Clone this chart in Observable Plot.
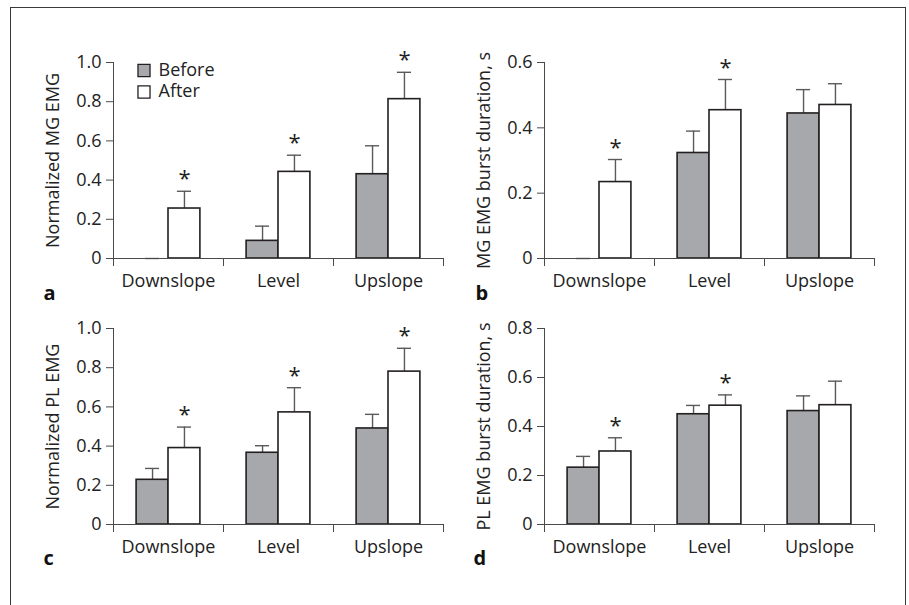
<!DOCTYPE html>
<html>
<head>
<meta charset="utf-8">
<script src="https://cdn.jsdelivr.net/npm/d3@7"></script>
<script src="https://cdn.jsdelivr.net/npm/@observablehq/plot@0.6"></script>
<style>
  html, body { margin: 0; padding: 0; background: #fff; }
  #wrap { position: relative; width: 909px; height: 605px; overflow: hidden; font-family: "Open Sans", sans-serif; background: #fff; }
  #frame { position: absolute; left: 10px; top: 7px; width: 896px; height: 620px; border: 1px solid #3a3a3a; box-sizing: border-box; z-index: 10; background: transparent; pointer-events: none; }
  svg.panel { position: absolute; max-width: none; }
</style>
</head>
<body>
<div id="wrap"><div id="frame"></div></div>
<script>
// ---------- data ----------
const categories = ["Downslope", "Level", "Upslope"];
const groups = ["Before", "After"];

// panel a: Normalized MG EMG
const aBefore    = [0.0,   0.09,  0.43];
const aBeforeErr = [0.0,   0.165, 0.575];
const aAfter     = [0.255, 0.442, 0.813];
const aAfterErr  = [0.343, 0.527, 0.95];
const aSig       = [true,  true,  true];

// panel b: MG EMG burst duration, s
const bBefore    = [0.0,   0.323, 0.444];
const bBeforeErr = [0.0,   0.39,  0.517];
const bAfter     = [0.234, 0.454, 0.47];
const bAfterErr  = [0.303, 0.548, 0.535];
const bSig       = [true,  true,  false];

// panel c: Normalized PL EMG
const cBefore    = [0.228, 0.366, 0.49];
const cBeforeErr = [0.286, 0.402, 0.562];
const cAfter     = [0.39,  0.572, 0.78];
const cAfterErr  = [0.497, 0.698, 0.899];
const cSig       = [true,  true,  true];

// panel d: PL EMG burst duration, s
const dBefore    = [0.232, 0.45,  0.463];
const dBeforeErr = [0.278, 0.486, 0.525];
const dAfter     = [0.298, 0.485, 0.487];
const dAfterErr  = [0.354, 0.529, 0.585];
const dSig       = [true,  true,  false];

const ticks1 = [0, 0.2, 0.4, 0.6, 0.8, 1.0];
const ticks06 = [0, 0.2, 0.4, 0.6];
const ticks08 = [0, 0.2, 0.4, 0.6, 0.8];

// ---------- styles ----------
const GRAY = "#a7a8ab";
const INK = "#231f20";
const ERR = "#5a5a5c";
const AXIS = "#4a4a4a";
const FONT = "Open Sans";
const FS = 18;
const BW = 0.29;     // bar width in category units
const CAP = 0.064;   // half cap width in category units

function rows(before, beforeErr, after, afterErr, sig) {
  return categories.flatMap((c, i) => [
    {i, cat: c, group: groups[0], value: before[i], err: beforeErr[i], sig: false},
    {i, cat: c, group: groups[1], value: after[i], err: afterErr[i], sig: sig[i]}
  ]);
}
const x1f = d => d.group === "Before" ? d.i - BW : d.i;
const x2f = d => d.group === "Before" ? d.i : d.i + BW;
const xc  = d => d.group === "Before" ? d.i - BW / 2 : d.i + BW / 2;
const fmt = d => d === 0 ? "0" : d.toFixed(1);

function panel(o) {
  const data = rows(o.before, o.beforeErr, o.after, o.afterErr, o.sig);
  const marks = [
    Plot.axisY({ticks: o.ticks, tickSize: 7, tickPadding: 5, tickFormat: fmt, label: null, fontSize: FS, stroke: AXIS, fill: "#222"}),
    Plot.axisX({ticks: [-0.5, 0.5, 1.5, 2.5], tickSize: 8, tickFormat: () => "", label: null, stroke: AXIS}),
    Plot.axisX({ticks: [0, 1, 2], tickSize: 0, tickPadding: 16, tickFormat: i => categories[i], label: null, fontSize: FS, fill: "#222"}),
    Plot.ruleX([-0.5], {stroke: AXIS, strokeWidth: 1}),
    // error bars
    Plot.ruleX(data, {x: xc, y1: "value", y2: "err", stroke: ERR, strokeWidth: 1.4}),
    Plot.ruleY(data, {x1: d => xc(d) - CAP, x2: d => xc(d) + CAP, y: "err", stroke: ERR, strokeWidth: 1.4}),
    // bars
    Plot.rectY(data.filter(d => d.value > 0), {x1: x1f, x2: x2f, y1: 0, y2: "value",
      fill: d => d.group === "Before" ? GRAY : "#fff", stroke: INK, strokeWidth: 1.6}),
    Plot.ruleY([0], {stroke: AXIS, strokeWidth: 1.2}),
    // significance
    Plot.text(data.filter(d => d.sig), {x: xc, y: "err", text: () => "*", fontSize: 22, dy: -12, fill: INK, lineAnchor: "middle"}),
    // y label (centred on the y axis)
    Plot.text([o.yLabel], {x: -0.5, y: (o.domain[0] + o.domain[1]) / 2, dx: o.labelDx, rotate: -90, fontSize: FS, fill: "#222", textAnchor: "middle", lineAnchor: "middle"}),
    // panel letter
    Plot.text([o.letter], {x: -0.5, y: 0, dx: o.letterDx, dy: o.letterDy, fontSize: 20, fontWeight: "bold", fill: "#111", textAnchor: "start", lineAnchor: "middle"})
  ];
  if (o.legend) {
    groups.forEach((g, k) => {
      marks.push(Plot.dot([g], {frameAnchor: "top-left", dx: 30.5, dy: 8 + 21.5 * k, symbol: "square", r: 6.8,
        fill: k === 0 ? GRAY : "#fff", stroke: INK, strokeWidth: 1.3}));
      marks.push(Plot.text([g], {frameAnchor: "top-left", dx: 45, dy: 7.5 + 21.5 * k, fontSize: FS, fill: "#222", textAnchor: "start", lineAnchor: "middle"}));
    });
  }
  const svg = Plot.plot({
    width: 450, height: 300,
    marginLeft: o.ml, marginRight: o.mr, marginTop: o.mt, marginBottom: o.mb,
    style: {fontFamily: FONT, fontSize: FS + "px", background: "transparent", overflow: "visible"},
    x: {type: "linear", domain: [-0.5, 2.5]},
    y: {domain: o.domain},
    marks
  });
  svg.classList.add("panel");
  svg.style.position = "absolute";
  svg.style.left = o.left + "px";
  svg.style.top = o.top + "px";
  document.getElementById("wrap").appendChild(svg);
}

panel({before: aBefore, beforeErr: aBeforeErr, after: aAfter, afterErr: aAfterErr, sig: aSig,
  domain: [0, 1], ticks: ticks1, yLabel: "Normalized MG EMG", letter: "a", legend: true,
  left: 0, top: 0, ml: 113, mr: 7, mt: 62, mb: 42, labelDx: -60, letterDx: -70, letterDy: 35});
panel({before: bBefore, beforeErr: bBeforeErr, after: bAfter, afterErr: bAfterErr, sig: bSig,
  domain: [0, 0.6], ticks: ticks06, yLabel: "MG EMG burst duration, s", letter: "b",
  left: 450, top: 0, ml: 94, mr: 26, mt: 62, mb: 42, labelDx: -60, letterDx: -69, letterDy: 35});
panel({before: cBefore, beforeErr: cBeforeErr, after: cAfter, afterErr: cAfterErr, sig: cSig,
  domain: [0, 1], ticks: ticks1, yLabel: "Normalized PL EMG", letter: "c",
  left: 0, top: 300, ml: 113, mr: 7, mt: 28, mb: 76, labelDx: -60, letterDx: -70, letterDy: 34});
panel({before: dBefore, beforeErr: dBeforeErr, after: dAfter, afterErr: dAfterErr, sig: dSig,
  domain: [0, 0.8], ticks: ticks08, yLabel: "PL EMG burst duration, s", letter: "d",
  left: 450, top: 300, ml: 94, mr: 26, mt: 28, mb: 76, labelDx: -60, letterDx: -71, letterDy: 34});
</script>
</body>
</html>
